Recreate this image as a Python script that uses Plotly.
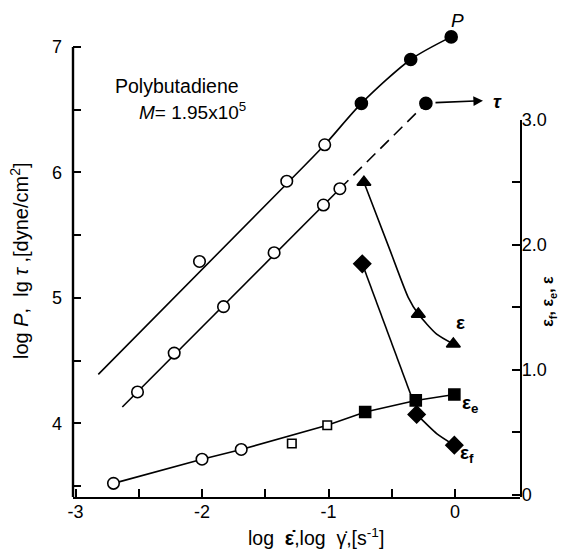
import plotly.graph_objects as go

# ---------------- data ----------------
# log P  (left axis)
p_open_x = [-2.02, -1.33, -1.03]
p_open_y = [5.29, 5.93, 6.22]
p_fill_x = [-0.74, -0.35, -0.03]
p_fill_y = [6.55, 6.90, 7.08]
p_line_x = [-2.82, -1.33, -1.03, -0.74, -0.35, -0.03]
p_line_y = [4.39, 5.91, 6.22, 6.55, 6.90, 7.08]

# log tau (left axis)
tau_open_x = [-2.51, -2.22, -1.83, -1.43, -1.04, -0.91]
tau_open_y = [4.25, 4.56, 4.93, 5.36, 5.74, 5.87]
tau_fill_x = [-0.23]
tau_fill_y = [6.55]
tau_line_x = [-2.63, -0.91]
tau_line_y = [4.13, 5.87]
tau_dash_x = [-0.91, -0.23]
tau_dash_y = [5.87, 6.55]

# strains (right axis)
ee_circ_x = [-2.70, -2.00, -1.69]
ee_circ_y = [0.093, 0.286, 0.364]
ee_osq_x = [-1.29, -1.01]
ee_osq_y = [0.411, 0.557]
ee_fsq_x = [-0.71, -0.31, -0.005]
ee_fsq_y = [0.663, 0.756, 0.803]
ee_line_x = [-2.70, -2.00, -1.69, -1.01, -0.71, -0.31, -0.005]
ee_line_y = [0.093, 0.286, 0.364, 0.557, 0.663, 0.756, 0.803]

eps_x = [-0.72, -0.29, -0.013]
eps_y = [2.50, 1.446, 1.207]
eps_line_x = [-0.72, -0.514, -0.37, -0.29, -0.145, -0.013]
eps_line_y = [2.50, 1.957, 1.58, 1.446, 1.286, 1.207]

ef_x = [-0.733, -0.303, -0.005]
ef_y = [1.848, 0.644, 0.398]
ef_line_x = [-0.733, -0.342, None, -0.303, -0.145, -0.005]
ef_line_y = [1.848, 0.782, None, 0.644, 0.491, 0.398]

x_ticks = [-3, -2.5, -2, -1.5, -1, -0.5, 0]
x_labels = ["-3", "", "-2", "", "-1", "", "0"]
y_ticks = [3.5, 4, 4.5, 5, 5.5, 6, 6.5, 7]
y_labels = ["", "4", "", "5", "", "6", "", "7"]
y2_ticks = [0, 0.5, 1.0, 1.5, 2.0, 2.5, 3.0]
y2_labels = ["0", "", "1.0", "", "2.0", "", "3.0"]

# ---------------- layout geometry ----------------
OFF = 8            # page body margin
W, H = 558, 545
ML, MR, MT, MB = 65, 46, 20, 56
XR = [-3.02, 0.514]
YR = [3.413, 7.135]
Y2R = [-0.016, 3.0]
Y2TOP = 0.808

FONT = "Liberation Sans, Arial, sans-serif"
LW = 1.6
PW = W - ML - MR
PH = H - MT - MB

def XP(px):   # screen pixel -> paper x
    return (px - OFF - ML) / PW

def YP(py):   # screen pixel -> paper y
    return (H - MB - (py - OFF)) / PH

fig = go.Figure()

def line(x, y, axis="y", dash="solid", shape="linear", smooth=1.0):
    fig.add_trace(go.Scatter(x=x, y=y, yaxis=axis, mode="lines",
                             line=dict(color="black", width=LW, dash=dash,
                                       shape=shape, smoothing=smooth),
                             connectgaps=False, hoverinfo="skip",
                             showlegend=False))

def marks(x, y, symbol, size, filled, axis="y"):
    fig.add_trace(go.Scatter(x=x, y=y, yaxis=axis, mode="markers",
                             cliponaxis=False,
                             marker=dict(symbol=symbol, size=size,
                                         color="black" if filled else "white",
                                         line=dict(color="black", width=1.6)),
                             showlegend=False))

# lines
line(p_line_x, p_line_y, shape="spline", smooth=0.8)
line(tau_line_x, tau_line_y)
line(tau_dash_x, tau_dash_y, dash="12px,7px")
line(ee_line_x, ee_line_y, axis="y2")
line(eps_line_x, eps_line_y, axis="y2", shape="spline", smooth=0.6)
line(ef_line_x, ef_line_y, axis="y2", shape="spline", smooth=0.6)

# markers
marks(p_open_x, p_open_y, "circle", 11.5, False)
marks(p_fill_x, p_fill_y, "circle", 12, True)
marks(tau_open_x, tau_open_y, "circle", 11.5, False)
marks(tau_fill_x, tau_fill_y, "circle", 12, True)
marks(ee_circ_x, ee_circ_y, "circle", 11.5, False, "y2")
marks(ee_osq_x, ee_osq_y, "square", 8.5, False, "y2")
marks(ee_fsq_x, ee_fsq_y, "square", 11, True, "y2")
marks(eps_x, eps_y, "triangle-up", 12, True, "y2")
marks(ef_x, ef_y, "diamond", 13, True, "y2")

tickfont = dict(family=FONT, size=18, color="black")

fig.update_layout(
    width=W, height=H,
    margin=dict(l=ML, r=MR, t=MT, b=MB, pad=0),
    paper_bgcolor="white", plot_bgcolor="rgba(0,0,0,0)",
    showlegend=False,
    font=dict(family=FONT, color="black", size=18),
    xaxis=dict(range=XR, showgrid=False, zeroline=False, showline=True,
               linecolor="black", linewidth=2.4, mirror=False,
               ticks="inside", ticklen=8, tickwidth=1.8, tickcolor="black",
               tickvals=x_ticks, ticktext=x_labels, tickfont=tickfont,
               ticklabelstandoff=-3),
    yaxis=dict(range=YR, showgrid=False, zeroline=False, showline=False,
               ticks="inside", ticklen=8, tickwidth=1.8, tickcolor="black",
               tickvals=y_ticks, ticktext=y_labels, tickfont=tickfont,
               ticklabelstandoff=10),
    yaxis2=dict(range=Y2R, domain=[0, Y2TOP], anchor="x", side="right",
                showgrid=False, zeroline=False, showline=True,
                linecolor="black", linewidth=2.4,
                ticks="inside", ticklen=8, tickwidth=1.8, tickcolor="black",
                tickvals=y2_ticks, ticktext=y2_labels, tickfont=tickfont,
                ticklabelstandoff=-4),
)

# left axis line (ends at 7)
fig.add_shape(type="line", xref="paper", yref="paper", x0=0, x1=0,
              y0=0, y1=(7.0 - YR[0]) / (YR[1] - YR[0]),
              line=dict(color="black", width=2.4), layer="above")

ann = []
def text(px, py, s, size=18, xanchor="center", angle=0):
    ann.append(dict(x=XP(px), y=YP(py), xref="paper", yref="paper", text=s,
                    showarrow=False, xanchor=xanchor, yanchor="middle",
                    textangle=angle,
                    font=dict(family=FONT, size=size, color="black")))

text(113, 84, "Polybutadiene", 19.5, "left")
text(137, 109, "<i>M</i>= 1.95x10<sup>5</sup>", 19, "left")
text(457, 18, "<i>P</i>", 19)
text(497, 100, "<b><i>τ</i></b>", 19)
text(460, 322, "<b>ε</b>", 19)
text(470, 404, "<b>ε<sub>e</sub></b>", 19)
text(467, 454, "<b>ε<sub>f</sub></b>", 19)
text(19, 260, "log <i>P</i>,  lg <i>τ</i> ,[dyne/cm<sup>2</sup>]", 20, angle=-90)
text(549, 301, "<b>ε<sub>f</sub>, ε<sub>e</sub>, ε</b>", 16, angle=-90)
text(316, 537, "log  <b>ε̇</b>,log  γ̇,[s<sup>-1</sup>]", 19.5)

# arrow for tau
ann.append(dict(x=XP(483), y=YP(99), xref="paper", yref="paper",
                ax=-49, ay=2, axref="pixel", ayref="pixel", text="",
                showarrow=True, arrowhead=2, arrowsize=1.2, arrowwidth=1.6,
                arrowcolor="black", standoff=0, startstandoff=0))
fig.update_layout(annotations=ann)

fig.write_html("out.html")
